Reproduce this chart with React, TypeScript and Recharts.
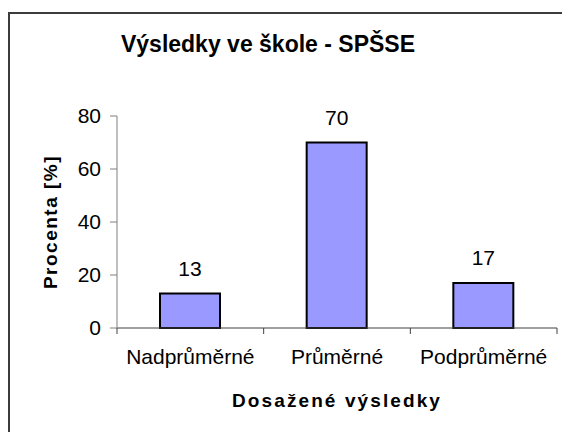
import { BarChart, Bar, XAxis, YAxis, LabelList } from "recharts";

const categories = ["Nadprůměrné", "Průměrné", "Podprůměrné"];
const percents = [13, 70, 17];
const yTicks = [0, 20, 40, 60, 80];

const chartTitle = "Výsledky ve škole - SPŠSE";
const xTitle = "Dosažené výsledky";
const yTitle = "Procenta [%]";

const data = categories.map((name, i) => ({ name, value: percents[i] }));

const FONT = "'Liberation Sans', Arial, sans-serif";
const X_AXIS = "#404040";
const Y_AXIS = "#808080";

// category labels, with the tick marks between categories (Excel style)
function CatTick(props: any) {
  const { x, y, payload, index, visibleTicksCount, width } = props;
  const half = payload.offset ?? width / visibleTicksCount / 2;
  return (
    <g>
      <line x1={x - half} x2={x - half} y1={y} y2={y + 6} stroke={X_AXIS} />
      {index === visibleTicksCount - 1 && (
        <line x1={x + half} x2={x + half} y1={y} y2={y + 6} stroke={X_AXIS} />
      )}
      <text x={x} y={y + 36} textAnchor="middle" fill="#000" fontSize={21} fontFamily={FONT}>
        {payload.value}
      </text>
    </g>
  );
}

function XTitle({ viewBox }: any) {
  const cx = viewBox.x + viewBox.width / 2;
  return (
    <text x={cx} y={viewBox.y + 79} textAnchor="middle" fill="#000" fontSize={19}
      fontWeight="bold" letterSpacing={2.1} fontFamily={FONT}>
      {xTitle}
    </text>
  );
}

function YTitle({ viewBox }: any) {
  const x = viewBox.x + 30;
  const y = viewBox.y + viewBox.height / 2;
  return (
    <text x={x} y={y} transform={`rotate(-90 ${x} ${y})`} textAnchor="middle"
      dominantBaseline="central" fill="#000" fontSize={19} fontWeight="bold"
      letterSpacing={1.5} fontFamily={FONT}>
      {yTitle}
    </text>
  );
}

export default function App() {
  return (
    <div
      style={{
        position: "relative",
        top: 4,
        width: 562,
        height: 424,
        borderLeft: "2px solid #3c3c3c",
        borderTop: "2px solid #3c3c3c",
        boxSizing: "border-box",
        background: "#fff",
      }}
    >
      <div
        style={{
          position: "absolute",
          left: 0,
          top: 19,
          width: 516,
          textAlign: "center",
          fontFamily: FONT,
          fontWeight: "bold",
          fontSize: 23,
          lineHeight: "23px",
          color: "#000",
        }}
      >
        {chartTitle}
      </div>
      <BarChart
        width={560}
        height={420}
        data={data}
        margin={{ top: 102, right: 13, bottom: 0, left: 10 }}
      >
        <XAxis
          dataKey="name"
          interval={0}
          height={106}
          tickLine={false}
          tickSize={0}
          tickMargin={0}
          axisLine={{ stroke: X_AXIS, strokeWidth: 1 }}
          tick={<CatTick />}
          label={<XTitle />}
        />
        <YAxis
          width={97}
          domain={[0, 80]}
          ticks={yTicks}
          interval={0}
          tickSize={7}
          tickMargin={9}
          axisLine={{ stroke: Y_AXIS }}
          tickLine={{ stroke: Y_AXIS }}
          tick={{ fill: "#000", fontSize: 21, fontFamily: FONT }}
          label={<YTitle />}
        />
        <Bar
          dataKey="value"
          fill="#9999ff"
          stroke="#000"
          strokeWidth={2}
          barSize={60}
          isAnimationActive={false}
        >
          <LabelList dataKey="value" position="top" offset={18} fill="#000"
            fontSize={21} fontFamily={FONT} />
        </Bar>
      </BarChart>
    </div>
  );
}
